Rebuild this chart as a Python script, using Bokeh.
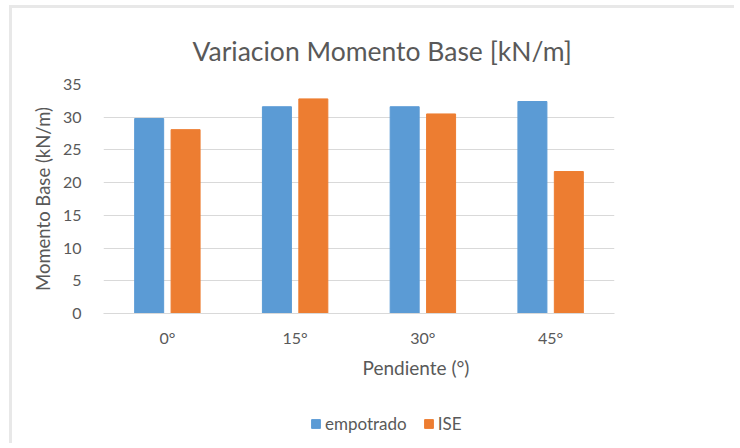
from bokeh.plotting import figure
from bokeh.layouts import column
from bokeh.models import ColumnDataSource, Legend, LegendItem, Title, Range1d, FixedTicker
from bokeh.transform import dodge
from bokeh.embed import file_html
from bokeh.resources import INLINE

categories = ["0°", "15°", "30°", "45°"]
empotrado = [29.8, 31.6, 31.6, 32.4]
ise = [28.1, 32.8, 30.5, 21.7]
y_ticks = [0, 5, 10, 15, 20, 25, 30, 35]

source = ColumnDataSource(data=dict(cat=categories, emp=empotrado, ise=ise))

FONT = "Lato"
GRAY = "#595959"
BLUE = "#5b9bd5"
ORANGE = "#ed7d31"

p = figure(x_range=categories, y_range=Range1d(0, 35),
           frame_width=511, frame_height=229,
           output_backend="svg", toolbar_location=None,
           min_border_left=91, min_border_right=120, min_border_top=76, min_border_bottom=70)

p.vbar(x=dodge("cat", -0.1425, range=p.x_range), top="emp", width=0.227, source=source,
       fill_color=BLUE, line_color=BLUE)
p.vbar(x=dodge("cat", 0.1425, range=p.x_range), top="ise", width=0.227, source=source,
       fill_color=ORANGE, line_color=ORANGE)

p.outline_line_color = None
p.xgrid.grid_line_color = None
p.ygrid.grid_line_color = "#d9d9d9"
p.ygrid.grid_line_width = 1
p.yaxis.ticker = FixedTicker(ticks=y_ticks)
p.yaxis.axis_line_color = None
p.yaxis.major_tick_line_color = None
p.yaxis.minor_tick_line_color = None
p.yaxis.major_label_text_font = FONT
p.yaxis.major_label_text_font_size = "16px"
p.yaxis.major_label_text_color = GRAY
p.yaxis.major_label_standoff = 16
p.yaxis.axis_label = "Momento Base (kN/m)"
p.yaxis.axis_label_text_font = FONT
p.yaxis.axis_label_text_font_size = "18.5px"
p.yaxis.axis_label_text_font_style = "normal"
p.yaxis.axis_label_text_color = GRAY
p.yaxis.axis_label_standoff = 6

p.xaxis.axis_line_color = "#d9d9d9"
p.xaxis.major_tick_line_color = None
p.xaxis.minor_tick_line_color = None
p.xaxis.major_label_text_font = FONT
p.xaxis.major_label_text_font_size = "16px"
p.xaxis.major_label_text_color = GRAY
p.xaxis.major_label_standoff = 8
p.x_range.range_padding = 0

p.add_layout(Title(text="Pendiente (°)", align="left", offset=259, text_font=FONT,
                   text_font_size="19px", text_font_style="normal", text_color=GRAY,
                   standoff=8), "below")

p.add_layout(Title(text="Variacion Momento Base [kN/m]", align="left", offset=89,
                   text_font=FONT, text_font_size="26.5px", text_font_style="normal",
                   text_color=GRAY, standoff=36), "above")

# legend strip: same series drawn in a strip whose y-range keeps the bars out of view
leg = figure(x_range=p.x_range, y_range=Range1d(100, 110),
             frame_width=511, frame_height=60, output_backend="svg", toolbar_location=None,
             x_axis_type=None, y_axis_type=None,
             min_border_left=91, min_border_right=120, min_border_top=0, min_border_bottom=0)
leg.outline_line_color = None
leg.grid.grid_line_color = None
l1 = leg.vbar(x=dodge("cat", -0.1425, range=p.x_range), top="emp", width=0.227, source=source,
              fill_color=BLUE, line_color=BLUE)
l2 = leg.vbar(x=dodge("cat", 0.1425, range=p.x_range), top="ise", width=0.227, source=source,
              fill_color=ORANGE, line_color=ORANGE)

legend = Legend(items=[LegendItem(label="empotrado", renderers=[l1]),
                       LegendItem(label="ISE", renderers=[l2])],
                orientation="horizontal", location=(207, 9),
                label_text_font=FONT, label_text_font_size="17px", label_text_color=GRAY,
                glyph_width=11, glyph_height=11, spacing=16, label_standoff=4,
                border_line_color=None, background_fill_alpha=0, padding=2, margin=0)
leg.add_layout(legend, "center")

layout = column(p, leg, spacing=0)
layout.styles = {"border-left": "3px solid #e8e8e8", "border-top": "3px solid #e8e8e8",
                 "margin-left": "9px", "margin-top": "5px"}

open("out.html", "w").write(file_html(layout, INLINE))
